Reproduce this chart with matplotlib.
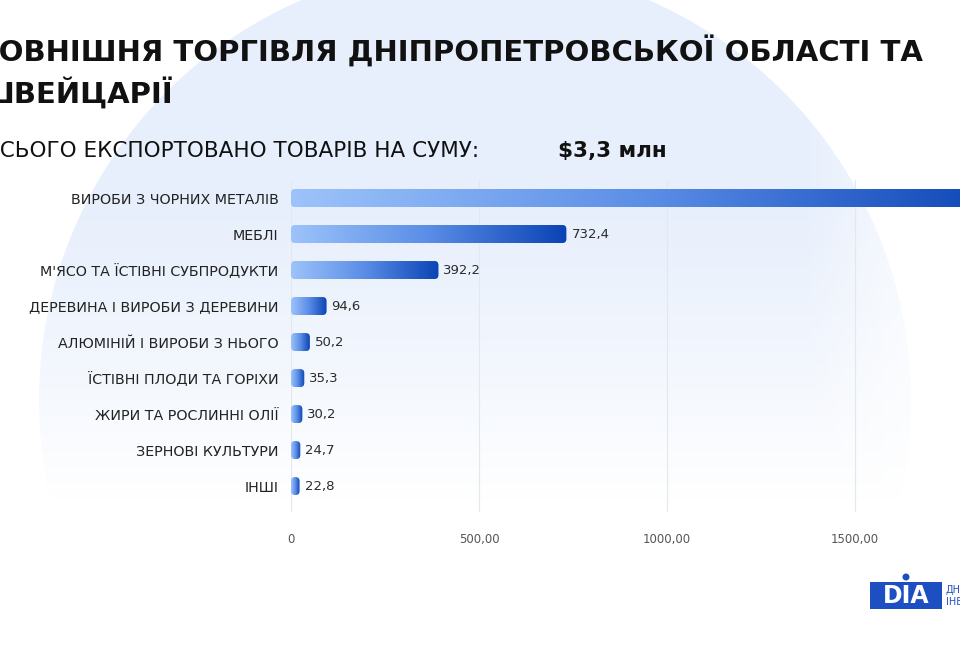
import numpy as np
import matplotlib.pyplot as plt
from matplotlib.patches import FancyBboxPatch, Circle, Rectangle
from matplotlib.colors import LinearSegmentedColormap

# дані (тис. дол. США)
categories = ['ВИРОБИ З ЧОРНИХ МЕТАЛІВ', 'МЕБЛІ', "М'ЯСО ТА ЇСТІВНІ СУБПРОДУКТИ",
              'ДЕРЕВИНА І ВИРОБИ З ДЕРЕВИНИ', 'АЛЮМІНІЙ І ВИРОБИ З НЬОГО',
              'ЇСТІВНІ ПЛОДИ ТА ГОРІХИ', 'ЖИРИ ТА РОСЛИННІ ОЛІЇ', 'ЗЕРНОВІ КУЛЬТУРИ', 'ІНШІ']
values = [1917.6, 732.4, 392.2, 94.6, 50.2, 35.3, 30.2, 24.7, 22.8]
value_labels = ['1917,6', '732,4', '392,2', '94,6', '50,2', '35,3', '30,2', '24,7', '22,8']
xticks = [0, 500, 1000, 1500]
xtick_labels = ['0', '500,00', '1000,00', '1500,00']

W, H = 960, 653
plt.rcParams['font.family'] = ['DejaVu Sans']
fig = plt.figure(figsize=(9.6, 6.53), dpi=100, facecolor='white')

# фон: велике коло + білий градієнт знизу і справа
bg = fig.add_axes([0, 0, 1, 1], zorder=0)
bg.axis('off')
bg.add_patch(Circle((475, 400), 436, color='#e7effc', lw=0))
fade = np.zeros((200, 2, 4))
fade[..., :3] = 1.0
fade[..., 3] = np.linspace(0, 1, 200)[:, None] ** 1.2
bg.imshow(fade, extent=[0, W, 500, 190], aspect='auto', zorder=2)
bg.add_patch(Rectangle((0, 500), W, 160, color='white', lw=0, zorder=2))
side = np.zeros((2, 200, 4))
side[..., :3] = 1.0
side[..., 3] = np.linspace(0, 0.95, 200)[None, :]
bg.imshow(side, extent=[800, W, 500, 120], aspect='auto', zorder=2)
bg.set_xlim(0, W)
bg.set_ylim(H, 0)

# заголовок
fig.text(-22 / W, 1 - 62 / H, 'ЗОВНІШНЯ ТОРГІВЛЯ ДНІПРОПЕТРОВСЬКОЇ ОБЛАСТІ ТА',
         fontsize=21, fontweight='bold', color='#111111', zorder=5)
fig.text(-22 / W, 1 - 104 / H, 'ШВЕЙЦАРІЇ',
         fontsize=21, fontweight='bold', color='#111111', zorder=5)
fig.text(-15 / W, 1 - 157 / H, 'ВСЬОГО ЕКСПОРТОВАНО ТОВАРІВ НА СУМУ:',
         fontsize=15.5, color='#111111', zorder=5)
fig.text(558 / W, 1 - 157 / H, '$3,3 млн',
         fontsize=15.5, fontweight='bold', color='#111111', zorder=5)

# графік
ax = fig.add_axes([291 / W, 141 / H, 669 / W, 332 / H], zorder=3)
ax.patch.set_alpha(0)
xmax = 669 / 0.376
ymin, ymax = 8.72, -0.5
pos = np.arange(len(categories))
bars = ax.barh(pos, values, height=0.5, color='none', lw=0)

cmap = LinearSegmentedColormap.from_list('bar', ['#9dc3fa', '#5a8de6', '#0a43b4'])
grad = np.linspace(0, 1, 256)[None, :]
ux = xmax / 669
uy = (ymin - ymax) / 332
for bar in bars:
    x0, y0 = bar.get_x(), bar.get_y()
    w, h = bar.get_width(), bar.get_height()
    r = min(4 * ux, w / 2)
    patch = FancyBboxPatch((x0, y0), w, h, boxstyle=f'round,pad=0,rounding_size={r}',
                           mutation_aspect=uy / ux, fc='none', ec='none')
    ax.add_patch(patch)
    im = ax.imshow(grad, cmap=cmap, extent=[x0, x0 + w, y0 + h, y0], aspect='auto', zorder=3)
    im.set_clip_path(patch)

for b, lab in zip(bars, value_labels):
    ax.text(b.get_width() + 5 * ux, b.get_y() + b.get_height() / 2, lab,
            va='center', ha='left', fontsize=9.5, color='#2b2b2b')

ax.set_xlim(0, xmax)
ax.set_ylim(ymin, ymax)
ax.set_yticks(pos)
ax.set_yticklabels(categories, fontsize=10.3, color='#222222')
ax.set_xticks(xticks)
ax.set_xticklabels(xtick_labels, fontsize=8.5, color='#555555')
ax.tick_params(axis='both', length=0)
ax.tick_params(axis='y', pad=9)
ax.tick_params(axis='x', pad=15)
ax.grid(axis='x', color='#e3e8ef', lw=0.8)
ax.set_axisbelow(True)
for s in ax.spines.values():
    s.set_visible(False)

# логотип
lg = fig.add_axes([0, 0, 1, 1], zorder=6)
lg.axis('off')
lg.add_patch(Rectangle((870, 582), 72, 27, color='#1e4fc2', lw=0))
lg.text(906, 596, 'DIA', ha='center', va='center', fontsize=17, fontweight='bold',
        color='white')
lg.add_patch(Circle((906, 577), 3.5, color='#1e4fc2', lw=0))
lg.text(946, 590, 'ДНІПРО', ha='left', va='center', fontsize=7, color='#1e4fc2')
lg.text(946, 602, 'ІНВЕСТ', ha='left', va='center', fontsize=7, color='#1e4fc2')
lg.set_xlim(0, W)
lg.set_ylim(H, 0)

fig.savefig('out.png', dpi=100, facecolor='white')
